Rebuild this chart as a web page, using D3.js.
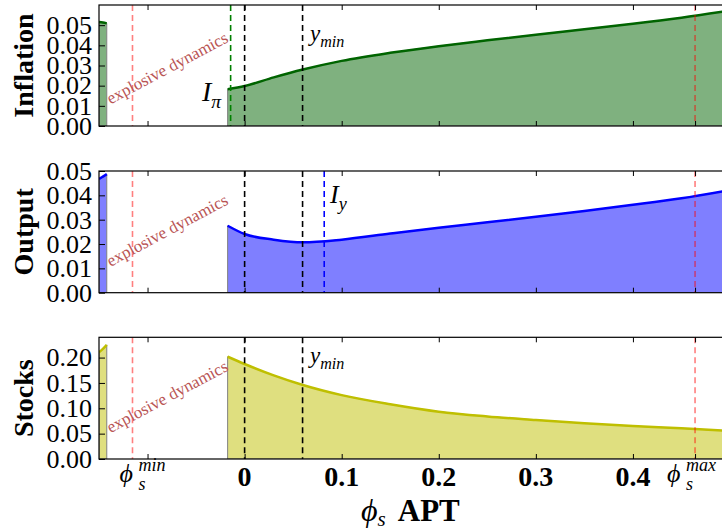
<!DOCTYPE html>
<html><head><meta charset="utf-8">
<script src="https://cdn.jsdelivr.net/npm/d3@7"></script>
<style>body{margin:0;background:#fff}svg{display:block}</style>
</head><body>
<svg id="c" width="722" height="531"></svg>
<script>
// ---- data ----
const xLeft = [-0.15, -0.146, -0.142];
const xRight = [-0.0175, 0, 0.03, 0.06, 0.1, 0.15, 0.2, 0.25, 0.3, 0.35, 0.4, 0.45, 0.5];
const inflationLeft = [0.0516, 0.0513, 0.0509];
const inflationRight = [0.0182, 0.0198, 0.0241, 0.0280, 0.0323, 0.0363, 0.0396, 0.0425, 0.0453, 0.0480, 0.0507, 0.0537, 0.0572];
const outputLeft = [0.0467, 0.0477, 0.0487];
const outputRight = [0.0275, 0.0241, 0.0218, 0.0207, 0.0218, 0.0243, 0.0267, 0.0289, 0.0312, 0.0336, 0.0361, 0.0388, 0.0422];
const stocksLeft = [0.2105, 0.217, 0.225];
const stocksRight = [0.2018, 0.1874, 0.165, 0.146, 0.126, 0.108, 0.0933, 0.084, 0.077, 0.0705, 0.065, 0.0605, 0.0553];
const xTickValues = [-0.1, 0, 0.1, 0.2, 0.3, 0.4, 0.464];
const xTickLabels = ["min", "0", "0.1", "0.2", "0.3", "0.4", "max"];
const inflationTicks = [0, 0.01, 0.02, 0.03, 0.04, 0.05];
const outputTicks = [0, 0.01, 0.02, 0.03, 0.04, 0.05];
const stocksTicks = [0, 0.05, 0.10, 0.15, 0.20];
const phiMin = -0.1155, phiMax = 0.464, yMin = 0.0597, iPi = -0.0144, iY = 0.082;

// ---- drawing ----
const svg = d3.select("#c");
const serif = "'Liberation Serif', 'DejaVu Serif', serif";
const x = d3.scaleLinear().domain([-0.15, 0.5]).range([99, 730]);

const panels = [
  {name: "Inflation", top: 5, bottom: 126, ymax: 0.06, ticks: inflationTicks, left: inflationLeft, right: inflationRight,
   line: "#006400", fill: "#7fb17f",
   vlines: [[phiMin, "rgba(255,0,0,0.5)"], [phiMax, "rgba(255,0,0,0.5)"], [0, "#000"], [yMin, "#000"], [iPi, "#008000"]]},
  {name: "Output", top: 171, bottom: 292.7, ymax: 0.05, ticks: outputTicks, left: outputLeft, right: outputRight,
   line: "#0000ff", fill: "#7f7fff",
   vlines: [[phiMin, "rgba(255,0,0,0.5)"], [phiMax, "rgba(255,0,0,0.5)"], [0, "#000"], [yMin, "#000"], [iY, "#0000ff"]]},
  {name: "Stocks", top: 337.3, bottom: 459, ymax: 0.24, ticks: stocksTicks, left: stocksLeft, right: stocksRight,
   line: "#bfbf00", fill: "#dfdf7f",
   vlines: [[phiMin, "rgba(255,0,0,0.5)"], [phiMax, "rgba(255,0,0,0.5)"], [0, "#000"], [yMin, "#000"]]}
];

panels.forEach((p, i) => {
  const y = d3.scaleLinear().domain([0, p.ymax]).range([p.bottom, p.top]);
  const clipId = "clip" + i;
  svg.append("clipPath").attr("id", clipId).append("rect")
    .attr("x", x(-0.15)).attr("y", p.top).attr("width", x(0.5) - x(-0.15)).attr("height", p.bottom - p.top);
  const g = svg.append("g").attr("clip-path", `url(#${clipId})`);

  const area = d3.area().x(d => x(d[0])).y0(y(0)).y1(d => y(d[1])).curve(d3.curveMonotoneX);
  const line = d3.line().x(d => x(d[0])).y(d => y(d[1])).curve(d3.curveMonotoneX);
  [[xLeft, p.left], [xRight, p.right]].forEach(([xs, vs]) => {
    const pts = xs.map((xv, k) => [xv, vs[k]]);
    g.append("path").attr("d", area(pts)).attr("fill", p.fill).attr("stroke", "#808080").attr("stroke-width", 1);
    g.append("path").attr("d", line(pts)).attr("fill", "none").attr("stroke", p.line).attr("stroke-width", 2.5);
  });

  p.vlines.forEach(([xv, col]) => {
    g.append("line").attr("x1", x(xv)).attr("x2", x(xv)).attr("y1", p.top).attr("y2", p.bottom)
      .attr("stroke", col).attr("stroke-width", 1.6).attr("stroke-dasharray", "6,4");
  });

  // explosive dynamics
  const cx = 168, cy = (p.top + p.bottom) / 2 + (i === 0 ? 4 : 0);
  svg.append("text").attr("transform", `translate(${cx},${cy}) rotate(-28)`)
    .attr("text-anchor", "middle").attr("dominant-baseline", "middle")
    .attr("font-family", serif).attr("font-size", 17).attr("fill", "#b95555")
    .text("explosive dynamics");

  // axes
  svg.append("g").attr("transform", `translate(0,${p.bottom})`)
    .call(d3.axisBottom(x).tickValues(xTickValues).tickSize(-5).tickFormat(""))
    .call(a => a.select(".domain").remove());
  svg.append("g").attr("transform", `translate(0,${p.top})`)
    .call(d3.axisTop(x).tickValues(xTickValues).tickSize(-5).tickFormat(""))
    .call(a => a.select(".domain").remove());
  const ya = svg.append("g").attr("transform", `translate(${x(-0.15)},0)`)
    .call(d3.axisLeft(y).tickValues(p.ticks).tickSize(-6).tickPadding(7).tickFormat(d3.format(".2f")));
  ya.select(".domain").remove();
  ya.selectAll("text").attr("font-family", serif).attr("font-size", 26).attr("fill", "#000");
  svg.append("rect").attr("x", x(-0.15)).attr("y", p.top).attr("width", x(0.5) - x(-0.15)).attr("height", p.bottom - p.top)
    .attr("fill", "none").attr("stroke", "#000").attr("stroke-width", 1.2);

  // y label
  svg.append("text").attr("transform", `translate(33,${(p.top + p.bottom) / 2 + 0}) rotate(-90)`)
    .attr("text-anchor", "middle").attr("font-family", serif).attr("font-weight", "bold")
    .attr("font-size", 28).attr("fill", "#000").text(p.name);

  p.y = y;
});

// annotations
function sub(xp, yp, main, s, size) {
  const t = svg.append("text").attr("x", xp).attr("y", yp).attr("font-family", serif)
    .attr("font-style", "italic").attr("font-size", size).attr("fill", "#000");
  t.append("tspan").text(main);
  t.append("tspan").attr("font-size", size * 0.7).attr("dy", size * 0.25).text(s);
}
sub(202, 101, "I", "π", 28);
sub(310, 41, "y", "min", 23);
sub(330, 203, "I", "y", 26);
sub(310, 363, "y", "min", 23);

// x tick labels on bottom panel
xTickValues.forEach((v, k) => {
  const lab = xTickLabels[k];
  const cx = x(v);
  if (lab === "min" || lab === "max") {
    const x0 = cx - 28;
    svg.append("text").attr("x", x0).attr("y", 482).attr("font-family", serif).attr("font-style", "italic")
      .attr("font-size", 26).attr("fill", "#000").text("ϕ");
    svg.append("text").attr("x", x0 + 19).attr("y", 490).attr("font-family", serif).attr("font-style", "italic")
      .attr("font-size", 18).attr("fill", "#000").text("s");
    svg.append("text").attr("x", x0 + 19).attr("y", 471).attr("font-family", serif).attr("font-style", "italic")
      .attr("font-size", 18).attr("fill", "#000").text(lab);
  } else {
    svg.append("text").attr("x", cx).attr("y", 486).attr("text-anchor", "middle").attr("font-family", serif)
      .attr("font-weight", "bold").attr("font-size", 28).attr("fill", "#000").text(lab);
  }
});

// x label
const xl = svg.append("text").attr("x", 361).attr("y", 521).attr("font-family", serif).attr("fill", "#000");
xl.append("tspan").attr("font-style", "italic").attr("font-size", 32).text("ϕ");
xl.append("tspan").attr("font-style", "italic").attr("font-size", 21).attr("dy", 5).text("s");
xl.append("tspan").attr("font-weight", "bold").attr("font-size", 31).attr("dy", -5).attr("dx", 6).text(" APT");
</script>
</body></html>
